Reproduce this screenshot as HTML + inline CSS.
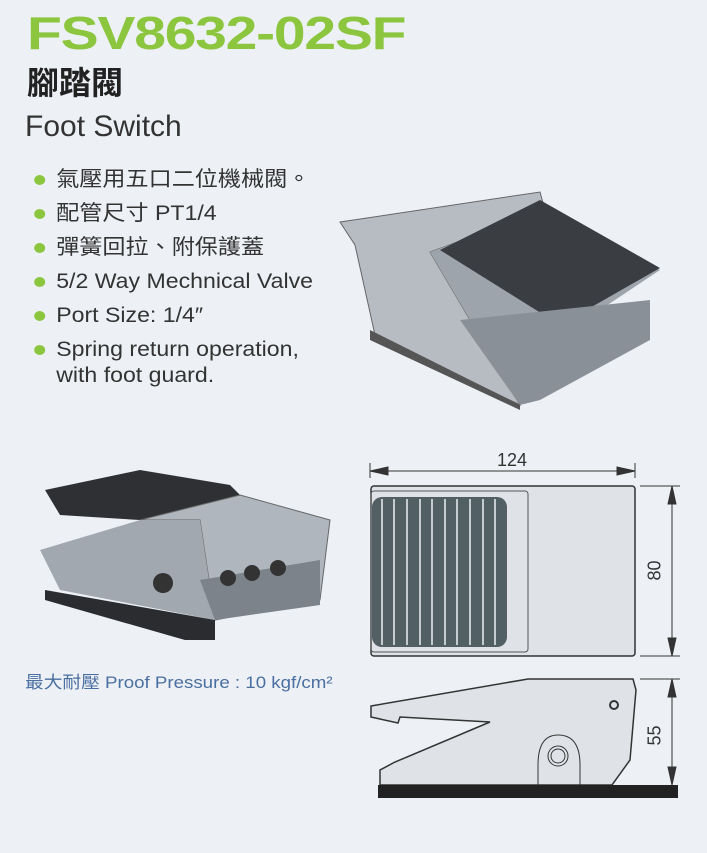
<!DOCTYPE html>
<html><head><meta charset="utf-8"><style>
body{margin:0;width:707px;height:853px;background:#edf1f6;position:relative;overflow:hidden;font-family:"Liberation Sans","Noto Sans CJK TC",sans-serif;}
.a{position:absolute;white-space:nowrap}
.t{left:27px;top:6px;font-size:46px;font-weight:bold;color:#8cc63f;letter-spacing:-1px;transform:scaleX(1.24);transform-origin:left}
.c{left:27px;top:58px;font-size:32px;font-weight:bold;color:#222}
.f{left:25px;top:110px;font-size:30px;color:#333}
ul{position:absolute;left:32px;top:163px;margin:0;padding:0;list-style:none;font-size:21px;color:#333;line-height:34px;transform:scaleX(1.1);transform-origin:left}
li{position:relative;padding-left:22px}
li:before{content:"";position:absolute;left:2px;top:12px;width:10px;height:10px;border-radius:50%;background:#8cc63f}
.p{left:25px;top:668px;font-size:17px;color:#4a6fa0;transform:scaleX(1.1);transform-origin:left}
</style></head><body>
<div class="a t">FSV8632-02SF</div>
<div class="a c">腳踏閥</div>
<div class="a f">Foot Switch</div>
<ul>
<li>氣壓用五口二位機械閥。</li>
<li>配管尺寸 PT1/4</li>
<li>彈簧回拉、附保護蓋</li>
<li>5/2 Way Mechnical Valve</li>
<li>Port Size: 1/4″</li>
<li style="line-height:26px;padding-top:4px">Spring return operation,<br>with foot guard.</li>
</ul>
<div class="a p">最大耐壓 Proof Pressure : 10 kgf/cm²</div>
<svg class="a" style="left:0;top:0" width="707" height="853">
<polygon points="340,222 540,192 545,210 430,252 520,405 375,335 355,245" fill="#b7bcc3" stroke="#666"/>
<polygon points="430,252 545,210 660,270 570,330 520,405" fill="#9ea4ab"/>
<polygon points="440,250 540,200 660,268 560,325" fill="#3a3d42"/>
<polygon points="460,320 650,300 650,340 540,400 520,405" fill="#8a9097"/>
<polygon points="370,330 520,405 520,410 370,340" fill="#555"/>
<polygon points="45,490 140,470 230,485 240,495 140,520 60,515" fill="#2e3034"/>
<polygon points="140,520 240,495 330,520 320,600 215,620 200,520" fill="#b0b6bd" stroke="#666"/>
<polygon points="40,550 140,520 200,520 215,620 60,590" fill="#a2a8b0"/>
<polygon points="45,590 215,620 215,640 185,640 45,600" fill="#2a2c30"/>
<polygon points="200,580 320,560 320,605 215,620" fill="#7c838b"/>
<circle cx="163" cy="583" r="10" fill="#333"/>
<circle cx="228" cy="578" r="8" fill="#333"/><circle cx="252" cy="573" r="8" fill="#333"/><circle cx="278" cy="568" r="8" fill="#333"/>
<g stroke="#333" fill="none" stroke-width="1">
<line x1="370" y1="463" x2="370" y2="478"/><line x1="635" y1="463" x2="635" y2="478"/>
<line x1="372" y1="471" x2="633" y2="471"/>
<polygon points="370,471 388,467 388,475" fill="#333"/><polygon points="635,471 617,467 617,475" fill="#333"/>
<line x1="640" y1="486" x2="680" y2="486"/><line x1="640" y1="656" x2="680" y2="656"/>
<line x1="672" y1="488" x2="672" y2="654"/>
<polygon points="672,486 668,504 676,504" fill="#333"/><polygon points="672,656 668,638 676,638" fill="#333"/>
<line x1="640" y1="679" x2="680" y2="679"/><line x1="672" y1="681" x2="672" y2="785"/>
<polygon points="672,679 668,697 676,697" fill="#333"/><polygon points="672,785 668,767 676,767" fill="#333"/>
</g>
<rect x="371" y="486" width="264" height="170" rx="3" fill="#dfe3e8" stroke="#333" stroke-width="1.5"/>
<rect x="371" y="491" width="157" height="161" rx="3" fill="none" stroke="#555"/>
<rect x="372" y="497" width="135" height="150" rx="10" fill="#525f65"/>
<g stroke="#c5cbd0" stroke-width="2">
<line x1="382" y1="499" x2="382" y2="645"/><line x1="394" y1="499" x2="394" y2="645"/><line x1="407" y1="499" x2="407" y2="645"/><line x1="420" y1="499" x2="420" y2="645"/><line x1="432" y1="499" x2="432" y2="645"/><line x1="445" y1="499" x2="445" y2="645"/><line x1="457" y1="499" x2="457" y2="645"/><line x1="470" y1="499" x2="470" y2="645"/><line x1="483" y1="499" x2="483" y2="645"/><line x1="495" y1="499" x2="495" y2="645"/>
</g>
<polygon points="371,706 528,679 633,679 636,690 630,760 612,785 380,785 380,770 395,762 490,722 400,717 398,723 371,717" fill="#dfe3e8" stroke="#333" stroke-width="1.5"/>
<path d="M538,785 V765 Q538,735 558,735 Q580,735 580,765 V785" fill="none" stroke="#333"/>
<circle cx="558" cy="756" r="10" fill="none" stroke="#333"/><circle cx="558" cy="756" r="7" fill="none" stroke="#333"/>
<circle cx="614" cy="705" r="4" fill="none" stroke="#333" stroke-width="2"/>
<rect x="378" y="785" width="300" height="13" fill="#222"/>
</svg>
<div class="a" style="left:497px;top:450px;font-size:18px;color:#333">124</div>
<div class="a" style="left:645px;top:560px;font-size:18px;color:#333;transform:rotate(-90deg)">80</div>
<div class="a" style="left:645px;top:725px;font-size:18px;color:#333;transform:rotate(-90deg)">55</div>
</body></html>
